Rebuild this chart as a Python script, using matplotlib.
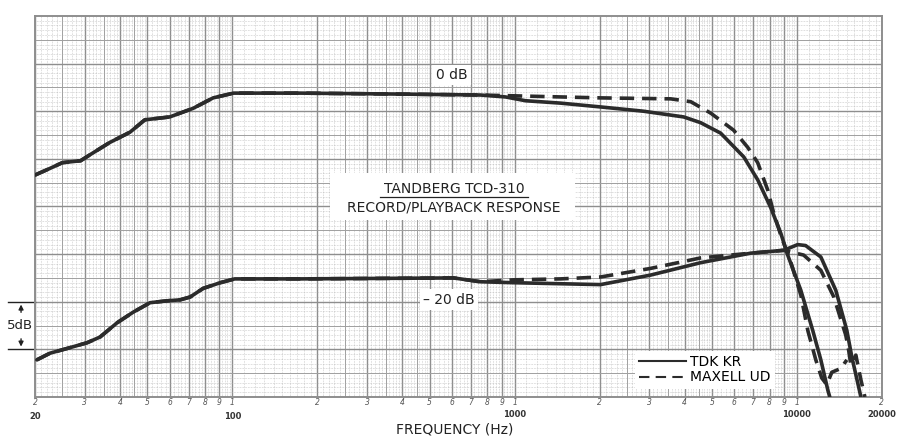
import numpy as np
import matplotlib.pyplot as plt
from matplotlib.lines import Line2D

# ---- data (Hz, dB relative to paper) ----
tdk_0_f = [20, 22.6, 25, 29, 31.2, 36.7, 43.4, 49, 60, 72.6, 85.5, 101, 174, 394, 757, 928,
           1094, 1455, 2016, 2864, 3972, 4560, 5370, 6486, 7265, 8074, 8770, 9280, 10330,
           11380, 12160, 12880, 13080]
tdk_0_db = [-6.7, -6.0, -5.4, -5.2, -4.6, -3.3, -2.2, -0.9, -0.6, 0.3, 1.4, 1.9, 1.9, 1.8, 1.7, 1.5,
            1.1, 0.85, 0.45, 0.0, -0.6, -1.2, -2.3, -4.8, -7.2, -10.1, -12.8, -15.1, -18.8,
            -23.0, -26.1, -29.3, -30.0]

maxell_0_f = [20, 22.6, 25, 29, 31.2, 36.7, 43.4, 49, 60, 72.6, 85.5, 101, 174, 394, 757,
              1050, 2016, 3572, 4208, 4952, 5973, 6700, 7265, 7890, 8280, 8770, 9510, 10330,
              10930, 11670, 12250, 12760, 13300, 14320, 15030]
maxell_0_db = [-6.7, -6.0, -5.4, -5.2, -4.6, -3.3, -2.2, -0.9, -0.6, 0.3, 1.4, 1.9, 1.9, 1.8, 1.7,
               1.6, 1.4, 1.3, 1.0, -0.2, -2.0, -3.8, -5.4, -8.3, -10.7, -13.0, -15.8, -19.3,
               -23.0, -26.1, -28.0, -28.7, -27.4, -27.0, -26.1]

tdk_20_f = [20.3, 22.6, 26.0, 30.6, 34.0, 39.1, 44.5, 51.1, 58.8, 65.3, 70.9, 78.8, 90.6, 102,
            174, 608, 757, 990, 2016, 3032, 4560, 6860, 8980, 10070, 10740, 12160, 13740,
            15030, 15660, 16570, 16860]
tdk_20_db = [-26.1, -25.4, -24.9, -24.3, -23.7, -22.2, -21.1, -20.1, -19.9, -19.8, -19.5, -18.6,
             -18.0, -17.6, -17.6, -17.5, -17.9, -18.0, -18.2, -17.2, -15.9, -14.9, -14.6, -14.0,
             -14.1, -15.3, -18.8, -23.0, -25.8, -29.0, -30.0]

maxell_20_f = [20.3, 22.6, 26.0, 30.6, 34.0, 39.1, 44.5, 51.1, 58.8, 65.3, 70.9, 78.8, 90.6, 102,
               174, 608, 757, 990, 1455, 2016, 3032, 4560, 6860, 8980, 10570, 12160, 13520,
               14900, 15260, 15530, 16180, 16860, 17420]
maxell_20_db = [-26.1, -25.4, -24.9, -24.3, -23.7, -22.2, -21.1, -20.1, -19.9, -19.8, -19.5, -18.6,
                -18.0, -17.6, -17.6, -17.5, -17.9, -17.7, -17.6, -17.4, -16.5, -15.4, -14.9, -14.6,
                -15.1, -16.7, -19.5, -23.5, -25.1, -26.6, -25.6, -28.2, -30.0]

digit_ticks = [20, 30, 40, 50, 60, 70, 80, 90, 100, 200, 300, 400, 500, 600, 700, 800, 900,
               1000, 2000, 3000, 4000, 5000, 6000, 7000, 8000, 9000, 10000, 20000]
digit_labels = ["2", "3", "4", "5", "6", "7", "8", "9", "1", "2", "3", "4", "5", "6", "7", "8", "9",
                "1", "2", "3", "4", "5", "6", "7", "8", "9", "1", "2"]
decade_labels = ["20", "100", "1000", "10000", "20000"]
decade_pos = [20, 100, 1000, 10000, 20000]

curve_c = "#2b2b2b"
grid_c = "#8e8e8e"

fig = plt.figure(figsize=(8.98, 4.36), dpi=100)
ax = fig.add_axes([0.039, 0.0894, 0.943, 0.874])
ax.set_xscale("log")
ax.set_xlim(20, 20000)
ax.set_ylim(-30, 10)

# ---- log graph paper ----
fine_x, mid_x, main_x = [], [], []
for dec in [10, 100, 1000, 10000]:
    for k in np.arange(1.0, 5.0, 0.1):
        fine_x.append(k * dec)
    for k in np.arange(5.0, 10.0, 0.2):
        fine_x.append(k * dec)
    for k in [2.5, 3.5, 4.5]:
        mid_x.append(k * dec)
    for k in range(1, 10):
        main_x.append(k * dec)
sel = lambda v: [x for x in v if 20 <= x <= 20000]
ax.vlines(sel(fine_x), -30, 10, color="#b0b0b0", lw=0.45, ls=(0, (1, 1.5)), zorder=1)
ax.vlines(sel(mid_x), -30, 10, color="#a0a0a0", lw=0.7, zorder=1)
ax.vlines(sel(main_x), -30, 10, color=grid_c, lw=1.0, zorder=1)
ax.hlines(np.arange(-30, 10, 0.5), 20, 20000, color="#b0b0b0", lw=0.45, ls=(0, (1, 1.5)), zorder=1)
ax.hlines(np.arange(-27.5, 10, 5), 20, 20000, color="#a0a0a0", lw=0.7, zorder=1)
ax.hlines(np.arange(-25, 10, 5), 20, 20000, color=grid_c, lw=1.0, zorder=1)

for s in ax.spines.values():
    s.set_color(grid_c)
    s.set_linewidth(1.4)

# ---- curves ----
kw = dict(color=curve_c, lw=2.6, zorder=4, solid_capstyle="round", solid_joinstyle="round")
ax.plot(maxell_0_f, maxell_0_db, ls=(0, (4, 2.2)), **kw)
ax.plot(tdk_0_f, tdk_0_db, **kw)
ax.plot(maxell_20_f, maxell_20_db, ls=(0, (4, 2.2)), **kw)
ax.plot(tdk_20_f, tdk_20_db, **kw)

# ---- ticks ----
ax.set_yticks([])
ax.set_xticks(digit_ticks, digit_labels, fontsize=5.5, style="italic", color="#555555")
ax.minorticks_off()
ax.tick_params(axis="x", length=0, pad=1)
dec_y = [-0.05, -0.05, -0.045, -0.045, -0.045]
for lab, pos, yy in zip(decade_labels, decade_pos, dec_y):
    ax.text(pos, yy, lab, transform=ax.get_xaxis_transform(), ha="center", va="center",
            fontsize=6, fontweight="bold", color="#333333")
ax.text(0.495, -0.084, "FREQUENCY (Hz)", transform=ax.transAxes, ha="center", va="center",
        fontsize=10, color="#222222")

# ---- labels ----
box = dict(facecolor="white", edgecolor="none", pad=2.5)
ax.text(0.492, 0.845, "0 dB", transform=ax.transAxes, ha="center", va="center",
        fontsize=10, color="#222222", bbox=box, zorder=5)
ax.text(0.489, 0.255, "– 20 dB", transform=ax.transAxes, ha="center", va="center",
        fontsize=10, color="#222222", bbox=box, zorder=5)
ax.add_patch(plt.Rectangle((0.348, 0.465), 0.29, 0.123, transform=ax.transAxes,
                           facecolor="white", edgecolor="none", zorder=3))
ax.text(0.495, 0.545, "TANDBERG TCD-310", transform=ax.transAxes, ha="center", va="center",
        fontsize=10, color="#222222", zorder=5)
ax.plot([0.407, 0.582], [0.526, 0.526], transform=ax.transAxes, color="#222222", lw=0.9, zorder=5)
ax.text(0.495, 0.497, "RECORD/PLAYBACK RESPONSE", transform=ax.transAxes, ha="center",
        va="center", fontsize=10, color="#222222", zorder=5)

# ---- 5 dB scale marker ----
yt = ax.get_yaxis_transform()
for yv in [-20, -25]:
    ax.plot([-0.032, 0], [yv, yv], transform=yt, color="#222222", lw=1.0, clip_on=False)
ax.annotate("", xy=(-0.0165, -20), xytext=(-0.0165, -21.4), xycoords=yt, textcoords=yt,
            arrowprops=dict(arrowstyle="-|>", color="#222222", lw=1.0, mutation_scale=7))
ax.annotate("", xy=(-0.0165, -25), xytext=(-0.0165, -23.6), xycoords=yt, textcoords=yt,
            arrowprops=dict(arrowstyle="-|>", color="#222222", lw=1.0, mutation_scale=7))
ax.text(-0.018, -22.5, "5dB", transform=yt, ha="center", va="center", fontsize=9.5,
        color="#222222", bbox=dict(facecolor="white", edgecolor="none", pad=0.5))

# ---- legend ----
handles = [Line2D([], [], color=curve_c, lw=1.5),
           Line2D([], [], color=curve_c, lw=1.5, ls=(0, (5, 3)))]
leg = ax.legend(handles, ["TDK KR", "MAXELL UD"], loc="lower left",
                bbox_to_anchor=(0.708, 0.022), fontsize=10, handlelength=3.4,
                handletextpad=0.3, labelspacing=0.1, borderpad=0.3, frameon=True,
                fancybox=False, borderaxespad=0)
leg.get_frame().set_facecolor("white")
leg.get_frame().set_edgecolor("none")
leg.get_frame().set_alpha(1)
leg.set_zorder(6)

fig.savefig("out.png", dpi=100, facecolor="white")
